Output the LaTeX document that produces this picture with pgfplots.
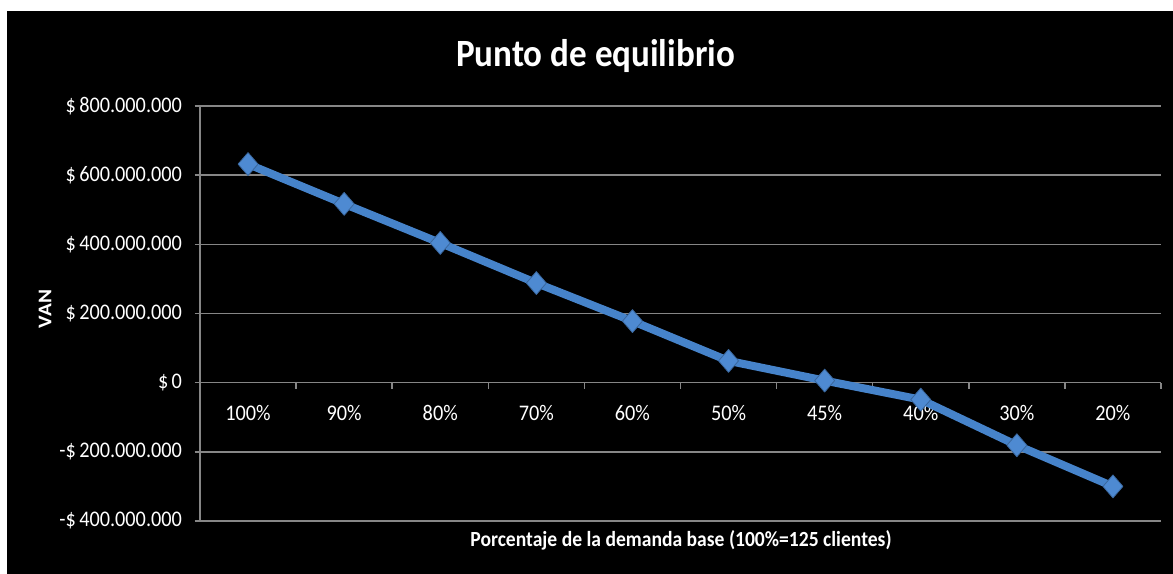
\documentclass[border=0pt]{standalone}
\usepackage{fontspec}
\setmainfont{Carlito}
\usepackage{graphicx}
\usepackage{pgfplots}
\pgfplotsset{compat=1.18}

\definecolor{serie}{RGB}{70,131,202}
\definecolor{marca}{RGB}{78,138,210}
\definecolor{rejilla}{RGB}{134,134,134}
% slightly taller glyphs, as in the spreadsheet export
\newcommand\vs[1]{\scalebox{1}[1.1]{#1}}

\begin{document}
\begin{tikzpicture}
\useasboundingbox (0,0) rectangle (879.75pt,430.5pt);
\fill[white] (0,0) rectangle (879.75pt,430.5pt);
\fill[black] (5.25pt,0) rectangle (879.75pt,422.25pt);
\begin{axis}[
  at={(150pt,39.75pt)}, anchor=south west,
  scale only axis, width=720.75pt, height=311.25pt,
  xmin=0.5, xmax=10.5, ymin=-400000000, ymax=800000000,
  scaled y ticks=false,
  axis y line=left, axis x line=middle,
  axis line style={-, draw=rejilla, line width=1.1pt},
  xtick={1,...,10},
  xticklabels={\vs{100\%},\vs{90\%},\vs{80\%},\vs{70\%},\vs{60\%},\vs{50\%},\vs{45\%},\vs{40\%},\vs{30\%},\vs{20\%}},
  minor xtick={0.5,1.5,2.5,3.5,4.5,5.5,6.5,7.5,8.5,9.5,10.5},
  ytick={-400000000,-200000000,0,200000000,400000000,600000000,800000000},
  yticklabels={\vs{-\$\,400.000.000},\vs{-\$\,200.000.000},\vs{\$\,0},\vs{\$\,200.000.000},\vs{\$\,400.000.000},\vs{\$\,600.000.000},\vs{\$\,800.000.000}},
  ymajorgrids, grid style={draw=rejilla, line width=1.1pt},
  tick align=outside,
  major tick length=4pt, minor tick length=4.5pt,
  tick style={draw=rejilla, line width=1.1pt},
  major x tick style={draw=none},
  ticklabel style={font=\fontsize{15.2}{17}\selectfont, text=white},
  xticklabel style={anchor=base, yshift=-24.6pt},
  yticklabel style={anchor=east, xshift=-6pt},
  clip=false,
]
\addplot[serie, line width=6pt, line join=round,
  mark=diamond*, mark size=8.6pt,
  mark options={xscale=1.16, fill=marca, draw=marca!75!black, line width=0.6pt}]
  coordinates {
    (1,632000000) (2,517000000) (3,404000000) (4,288000000) (5,178000000)
    (6,63000000) (7,6000000) (8,-49000000) (9,-181000000) (10,-300000000)
  };
\end{axis}
\node[anchor=base, text=white, font=\bfseries\fontsize{26.3}{30}\selectfont]
  at (446.6pt,380.5pt) {\vs{Punto de equilibrio}};
\node[anchor=base, text=white, font=\bfseries\fontsize{14.7}{17}\selectfont]
  at (510.75pt,20.8pt) {\vs{Porcentaje de la demanda base (100\%=125 clientes)}};
\node[rotate=90, text=white, font=\bfseries\fontsize{14.5}{17}\selectfont]
  at (33.75pt,198.75pt) {\scalebox{1.1}[1]{VAN}};
\end{tikzpicture}
\end{document}
